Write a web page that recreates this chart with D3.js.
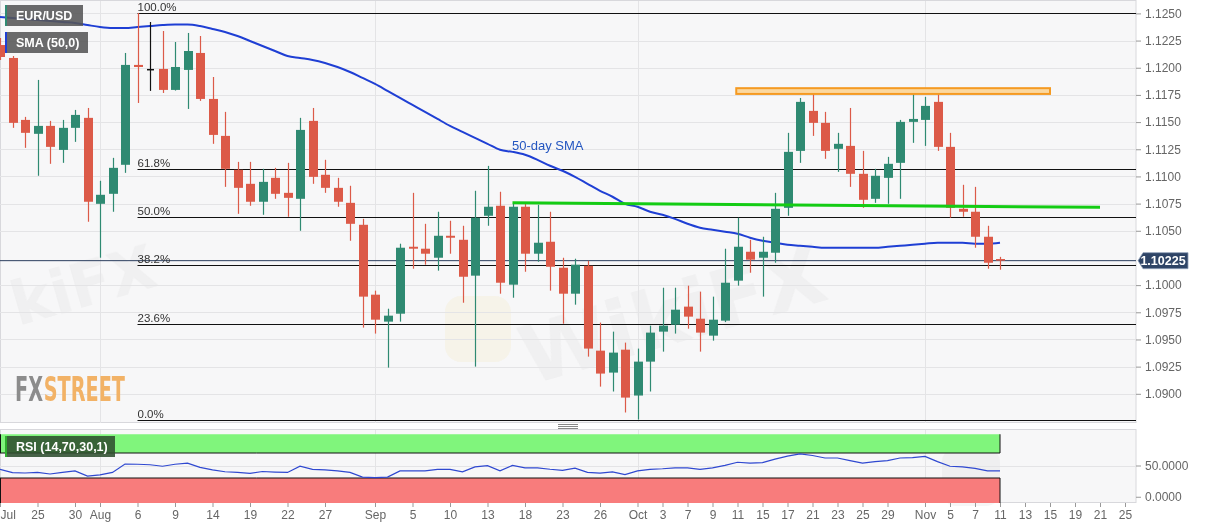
<!DOCTYPE html>
<html lang="en">
<head>
<meta charset="utf-8">
<title>EUR/USD daily</title>
<script src="https://cdn.jsdelivr.net/npm/d3@7"></script>
<style>
  html, body { margin: 0; padding: 0; background: #fff; }
  svg { display: block; font-family: "Liberation Sans", Arial, sans-serif; }
</style>
</head>
<body>
<svg id="chart" width="1207" height="526"></svg>
<script>
// ---- data (daily candles, 22 Jul - 11 Nov 2019) ----
var firstDay = "2019-07-22", lastAxisDay = "2019-11-25";

var opens  = [1.12209,1.12090,1.11520,1.11392,1.11465,1.11244,1.11447,1.11539,1.10748,1.10840,
              1.11107,1.12026,1.11989,1.11989,1.11796,1.11980,1.12136,1.11713,1.11373,1.11061,
              1.10932,1.10767,1.10987,1.10849,1.10794,1.11511,1.11015,1.10895,1.10757,1.10555,
              1.09912,1.09664,1.09737,1.10353,1.10335,1.10252,1.10454,1.10417,1.10087,1.10638,
              1.10730,1.10004,1.10721,1.10289,1.10399,1.10160,1.09921,1.10178,1.09397,1.09195,
              1.09406,1.08984,1.09296,1.09572,1.09636,1.09802,1.09691,1.09535,1.09673,1.10041,
              1.10307,1.10252,1.10298,1.10711,1.11235,1.11603,1.11493,1.11254,1.11281,1.11024,
              1.10794,1.10987,1.11125,1.11502,1.11520,1.11686,1.11272,1.10702,1.10675,1.10445,
              1.10240];
var highs  = [1.12274,1.12108,1.11548,1.11888,1.11511,1.11520,1.11612,1.11630,1.10960,1.11171,
              1.12136,1.12504,1.12421,1.12338,1.12237,1.12320,1.12292,1.11915,1.11594,1.11134,
              1.11134,1.11070,1.11079,1.11125,1.11539,1.11630,1.11153,1.10987,1.10914,1.10610,
              1.09949,1.09783,1.10381,1.10849,1.10564,1.10675,1.10592,1.10546,1.10868,1.11097,
              1.10859,1.10757,1.10757,1.10739,1.10675,1.10252,1.10243,1.10224,1.09655,1.09572,
              1.09471,1.09416,1.09627,1.09976,1.09976,1.09995,1.09940,1.09894,1.10335,1.10620,
              1.10417,1.10445,1.10849,1.11401,1.11722,1.11787,1.11594,1.11401,1.11630,1.11235,
              1.11070,1.11180,1.11520,1.11759,1.11732,1.11759,1.11401,1.10923,1.10904,1.10546,
              1.10260];
var lows   = [1.12072,1.11447,1.11263,1.11006,1.11116,1.11125,1.11318,1.10583,1.10252,1.10675,
              1.11033,1.11676,1.11787,1.11768,1.11790,1.11621,1.11695,1.11300,1.10904,1.10656,
              1.10730,1.10647,1.10794,1.10629,1.10500,1.10932,1.10849,1.10721,1.10408,1.09609,
              1.09554,1.09241,1.09664,1.10151,1.10188,1.10133,1.10289,1.09838,1.09250,1.10546,
              1.09921,1.09884,1.10123,1.10215,1.09949,1.09645,1.09820,1.09342,1.09066,1.09021,
              1.08828,1.08763,1.09021,1.09388,1.09554,1.09599,1.09388,1.09489,1.09660,1.09995,
              1.10114,1.09894,1.10206,1.10638,1.11125,1.11373,1.11162,1.11042,1.10904,1.10711,
              1.10757,1.10748,1.10794,1.11309,1.11281,1.11235,1.10620,1.10629,1.10344,1.10151,
              1.10142];
var closes = [1.12099,1.11493,1.11401,1.11465,1.11272,1.11447,1.11566,1.10767,1.10831,1.11079,
              1.12026,1.12007,1.11989,1.11796,1.12007,1.12154,1.11713,1.11382,1.11070,1.10895,
              1.10767,1.10950,1.10840,1.10803,1.11428,1.10996,1.10895,1.10767,1.10564,1.09894,
              1.09682,1.09719,1.10344,1.10335,1.10289,1.10454,1.10436,1.10077,1.10620,1.10721,
              1.10022,1.10721,1.10289,1.10390,1.10169,1.09921,1.10188,1.09416,1.09186,1.09379,
              1.08965,1.09296,1.09563,1.09627,1.09774,1.09710,1.09563,1.09682,1.10022,1.10353,
              1.10234,1.10307,1.10702,1.11226,1.11686,1.11493,1.11235,1.11300,1.11024,1.10785,
              1.11006,1.11116,1.11502,1.11529,1.11649,1.11272,1.10711,1.10675,1.10445,1.10206,
              1.10225];

var sma50  = [1.12467,1.12458,1.12448,1.12439,1.12430,1.12421,1.12412,1.12393,1.12375,1.12366,
              1.12366,1.12375,1.12384,1.12393,1.12398,1.12398,1.12384,1.12357,1.12329,1.12292,
              1.12246,1.12200,1.12154,1.12108,1.12090,1.12072,1.12044,1.12007,1.11961,1.11906,
              1.11851,1.11787,1.11722,1.11658,1.11594,1.11529,1.11465,1.11410,1.11355,1.11300,
              1.11245,1.11226,1.11199,1.11153,1.11098,1.11052,1.10996,1.10932,1.10868,1.10813,
              1.10748,1.10721,1.10675,1.10647,1.10610,1.10564,1.10528,1.10509,1.10491,1.10473,
              1.10436,1.10408,1.10390,1.10371,1.10362,1.10353,1.10344,1.10344,1.10344,1.10344,
              1.10344,1.10353,1.10362,1.10371,1.10381,1.10390,1.10390,1.10390,1.10381,1.10381,
              1.10390];

var rsi14  = [43.8,38.5,38.0,38.9,36.4,39.0,41.4,33.0,35.0,38.9,
              52.2,52.0,51.2,48.8,52.0,53.7,47.0,43.0,40.0,39.0,
              37.4,40.4,39.5,38.9,48.8,43.8,43.0,41.4,38.9,31.5,
              30.5,31.5,41.4,41.4,41.4,43.8,43.8,39.9,47.8,49.8,
              41.4,50.2,46.3,46.3,44.0,42.3,45.8,38.9,37.7,39.9,
              35.4,41.4,43.8,44.8,46.3,46.3,43.8,46.3,50.2,55.2,
              53.7,54.7,60.1,65.0,68.5,66.0,62.0,62.0,57.7,53.7,
              56.2,57.7,62.0,62.6,64.6,56.2,48.8,47.8,45.3,41.4,
              41.4];

var priceTicks = [1.1250,1.1225,1.1200,1.1175,1.1150,1.1125,1.1100,1.1075,1.1050,1.1000,1.0975,1.0950,1.0925,1.0900];
var rsiTicks = [50, 0];
var tickDates  = ["2019-07-22","2019-07-25","2019-07-30","2019-08-01","2019-08-06","2019-08-09","2019-08-14",
                  "2019-08-19","2019-08-22","2019-08-27","2019-09-02","2019-09-05","2019-09-10","2019-09-13",
                  "2019-09-18","2019-09-23","2019-09-26","2019-10-01","2019-10-03","2019-10-07","2019-10-09",
                  "2019-10-11","2019-10-15","2019-10-17","2019-10-21","2019-10-23","2019-10-25","2019-10-29",
                  "2019-11-01","2019-11-05","2019-11-07","2019-11-11","2019-11-13","2019-11-15","2019-11-19",
                  "2019-11-21","2019-11-25"];
var tickLabels = ["Jul","25","30","Aug","6","9","14","19","22","27","Sep","5","10","13","18","23","26",
                  "Oct","3","7","9","11","15","17","21","23","25","29","Nov","5","7","11","13","15","19","21","25"];
var monthStarts = ["2019-08-01","2019-09-02","2019-10-01","2019-11-01"];

var fibHigh = 1.1250, fibLow = 1.0876, fibStartDay = 11;
var fibLevels = [1, 0.618, 0.5, 0.382, 0.236, 0];
var fibLabels = ["100.0%","61.8%","50.0%","38.2%","23.6%","0.0%"];
var lastPrice = 1.10225;
var supportLine = [[41, 1.10757], [88, 1.10716]];   // [day index, price]
var resistZone = [58.9, 84, 1.11812, 1.11759];      // from, to, top, bottom
var rsiOverbought = 70, rsiOversold = 30;

// ---- layout ----
var W = 1207, plotR = 1136;
var mainTop = 1, mainBot = 423, rsiTop = 430, rsiBot = 503;
var red = "#dc5a48", green = "#2f8a72";

var svg = d3.select("#chart");
var parse = d3.utcParse("%Y-%m-%d"), fmt = d3.utcFormat("%Y-%m-%d");
var days = d3.utcDay.range(parse(firstDay), d3.utcDay.offset(parse(lastAxisDay), 1))
  .filter(function(d) { return d.getUTCDay() % 6 !== 0; }).map(fmt);

var x = d3.scalePoint().domain(days).range([0, 1125]);
var step = x.step();
function xi(i) { return x(days[0]) + i * step; }
var y = d3.scaleLinear().domain([1.0900, 1.1250]).range([393.8, 13.4]);
var yr = d3.scaleLinear().domain([0, 100]).range([496.75, 434.25]);

svg.append("rect").attr("width", W).attr("height", 526).attr("fill", "#fff");

var defs = svg.append("defs");
defs.append("clipPath").attr("id", "clipMain").append("rect")
  .attr("x", 0).attr("y", mainTop).attr("width", plotR).attr("height", mainBot - mainTop);

// panels
svg.append("rect").attr("x", 0.5).attr("y", mainTop - 0.5).attr("width", plotR - 0.5).attr("height", mainBot - mainTop)
  .attr("fill", "#f7f7f8").attr("stroke", "#d8d8dc");
svg.append("rect").attr("x", 0.5).attr("y", rsiTop - 0.5).attr("width", plotR - 0.5).attr("height", rsiBot - rsiTop)
  .attr("fill", "#f7f7f8").attr("stroke", "#d8d8dc");

// faint watermarks
var wm = svg.append("g").attr("fill", "#c8c8c8").attr("opacity", 0.16)
  .attr("font-family", "'DejaVu Sans', sans-serif").attr("font-weight", "bold");
wm.append("text").attr("transform", "translate(18,326) rotate(-16)").attr("font-size", 60).text("kiFX");
wm.append("text").attr("transform", "translate(530,385) rotate(-16)").attr("font-size", 80).text("WikiFX");
svg.append("rect").attr("x", 445).attr("y", 296).attr("width", 66).attr("height", 66).attr("rx", 16)
  .attr("fill", "#f3d98e").attr("opacity", 0.14);
svg.append("rect").attr("x", 942).attr("y", 448).attr("width", 58).attr("height", 58).attr("rx", 14)
  .attr("fill", "#d8d8d8").attr("opacity", 0.22);

// grid
var grid = svg.append("g").attr("stroke", "#e4e4e6").attr("stroke-width", 1);
grid.selectAll("line.h").data(priceTicks).enter().append("line")
  .attr("x1", 0).attr("x2", plotR).attr("y1", function(d) { return Math.round(y(d)) + 0.5; })
  .attr("y2", function(d) { return Math.round(y(d)) + 0.5; });
grid.selectAll("line.v").data(monthStarts).enter().append("line")
  .attr("x1", function(d) { return Math.round(x(d)) + 0.5; }).attr("x2", function(d) { return Math.round(x(d)) + 0.5; })
  .attr("y1", mainTop).attr("y2", mainBot);
grid.selectAll("line.vr").data(monthStarts).enter().append("line")
  .attr("x1", function(d) { return Math.round(x(d)) + 0.5; }).attr("x2", function(d) { return Math.round(x(d)) + 0.5; })
  .attr("y1", rsiTop).attr("y2", rsiBot);
grid.append("line").attr("x1", 0).attr("x2", plotR).attr("y1", Math.round(yr(50)) + 0.5).attr("y2", Math.round(yr(50)) + 0.5);

// FXStreet logo, squeezed horizontally
var logo = svg.append("g");
var logoFont = "'DejaVu Sans Condensed', 'Liberation Sans Narrow', sans-serif";
var fx = logo.append("text").attr("x", 0).attr("y", 0).attr("font-size", 33).attr("font-weight", "bold")
  .attr("font-family", logoFont).attr("fill", "#8c8c8c").text("FX");
var fxW = fx.node().getComputedTextLength();
var st = logo.append("text").attr("x", fxW + 1).attr("y", 0).attr("font-size", 33).attr("font-weight", "bold")
  .attr("font-family", logoFont).attr("fill", "#f2b266").text("STREET");
var logoW = fxW + 1 + st.node().getComputedTextLength();
logo.attr("transform", "translate(15,401) scale(" + (110 / logoW) + ",1)");

var main = svg.append("g").attr("clip-path", "url(#clipMain)");

// fibonacci retracement
var fibX0 = xi(fibStartDay);
fibLevels.forEach(function(lv, k) {
  var p = fibLow + (fibHigh - fibLow) * lv, yy = Math.round(y(p)) + 0.5;
  main.append("line").attr("x1", fibX0).attr("x2", plotR).attr("y1", yy).attr("y2", yy)
    .attr("stroke", "#111").attr("stroke-width", 1.2);
  svg.append("text").attr("x", fibX0).attr("y", yy - 3).attr("font-size", 11.5).attr("fill", "#333").text(fibLabels[k]);
});

// last price line
main.append("line").attr("x1", 0).attr("x2", plotR).attr("y1", y(lastPrice)).attr("y2", y(lastPrice))
  .attr("stroke", "#2b3e5e").attr("stroke-width", 1);

// SMA 50
var smaLine = d3.line().x(function(d, i) { return xi(i); }).y(function(d) { return y(d); }).curve(d3.curveMonotoneX);
main.append("path").datum(sma50).attr("d", smaLine).attr("fill", "none")
  .attr("stroke", "#1f3fd4").attr("stroke-width", 2);

// candles
var candles = d3.range(opens.length).map(function(i) {
  return { i: i, o: opens[i], h: highs[i], l: lows[i], c: closes[i] };
});
var cg = main.selectAll("g.candle").data(candles).enter().append("g");
function col(d) { return d.c > d.o ? green : (d.c < d.o ? red : "#111"); }
cg.append("line")
  .attr("x1", function(d) { return Math.round(xi(d.i)) + 0.5; }).attr("x2", function(d) { return Math.round(xi(d.i)) + 0.5; })
  .attr("y1", function(d) { return y(d.h); }).attr("y2", function(d) { return y(d.l); })
  .attr("stroke", col).attr("stroke-width", 1.2);
cg.append("rect")
  .attr("x", function(d) { return Math.round(xi(d.i)) - (d.o === d.c ? 3 : 4); })
  .attr("width", function(d) { return d.o === d.c ? 7 : 9; })
  .attr("y", function(d) { return y(Math.max(d.o, d.c)); })
  .attr("height", function(d) { return Math.max(1.5, Math.abs(y(d.o) - y(d.c))); })
  .attr("fill", col);

// support line
main.append("line").attr("x1", xi(supportLine[0][0])).attr("y1", y(supportLine[0][1]))
  .attr("x2", xi(supportLine[1][0])).attr("y2", y(supportLine[1][1]))
  .attr("stroke", "#14cc14").attr("stroke-width", 3);

// resistance zone
main.append("rect").attr("x", xi(resistZone[0])).attr("width", xi(resistZone[1]) - xi(resistZone[0]))
  .attr("y", y(resistZone[2])).attr("height", y(resistZone[3]) - y(resistZone[2]))
  .attr("fill", "#fbd8a0").attr("stroke", "#f59a22").attr("stroke-width", 2);

svg.append("text").attr("x", 512).attr("y", 150).attr("font-size", 13).attr("fill", "#2456c0").text("50-day SMA");

// legend boxes
function tag(xp, yp, w, h, fill, stripe, label) {
  svg.append("rect").attr("x", xp).attr("y", yp).attr("width", w).attr("height", h).attr("fill", fill).attr("opacity", 0.88);
  svg.append("rect").attr("x", xp).attr("y", yp).attr("width", 2).attr("height", h).attr("fill", stripe);
  svg.append("text").attr("x", xp + 11).attr("y", yp + h / 2 + 4.5).attr("font-size", 12.5).attr("font-weight", "bold")
    .attr("fill", "#fff").text(label);
}
tag(5, 5, 78, 21, "#565656", "#2f8a72", "EUR/USD");
tag(5, 32, 83, 21, "#565656", "#1f3fd4", "SMA (50,0)");

// price axis
var ya = svg.append("g").attr("transform", "translate(" + plotR + ",0)")
  .call(d3.axisRight(y).tickValues(priceTicks).tickFormat(d3.format(".4f")).tickSize(5).tickPadding(4));
ya.select(".domain").remove();
ya.selectAll("line").attr("stroke", "#999");
ya.selectAll("text").attr("font-size", 12).attr("fill", "#666").attr("font-family", "'Liberation Sans', Arial, sans-serif");

// last price badge
var ly = y(lastPrice);
svg.append("path").attr("d", "M" + (plotR + 2) + "," + ly + " L" + (plotR + 7) + "," + (ly - 8) + " H" + 1188 +
  " V" + (ly + 8) + " H" + (plotR + 7) + " Z").attr("fill", "#2e4466").attr("stroke", "#8fa0b8").attr("stroke-width", 0.8);
svg.append("text").attr("x", 1163).attr("y", ly + 4.5).attr("text-anchor", "middle").attr("font-size", 12.5)
  .attr("font-weight", "bold").attr("fill", "#fff").text(d3.format(".5f")(lastPrice));

// separator handle
[0, 2, 4].forEach(function(o) {
  svg.append("line").attr("x1", 558).attr("x2", 578).attr("y1", 424.5 + o).attr("y2", 424.5 + o).attr("stroke", "#888");
});

// RSI panel
var lastX = xi(rsi14.length - 1);
svg.append("rect").attr("x", 0).attr("width", lastX).attr("y", yr(100)).attr("height", yr(rsiOverbought) - yr(100)).attr("fill", "#80f57c");
svg.append("rect").attr("x", 0).attr("width", lastX).attr("y", yr(rsiOversold)).attr("height", rsiBot - yr(rsiOversold)).attr("fill", "#f87c7c");
var rb = svg.append("g").attr("stroke", "#111").attr("stroke-width", 1).attr("fill", "none");
rb.append("line").attr("x1", 0).attr("x2", lastX).attr("y1", yr(rsiOverbought)).attr("y2", yr(rsiOverbought));
rb.append("line").attr("x1", 0).attr("x2", lastX).attr("y1", yr(rsiOversold)).attr("y2", yr(rsiOversold));
rb.append("line").attr("x1", lastX).attr("x2", lastX).attr("y1", yr(100)).attr("y2", yr(rsiOverbought));
rb.append("line").attr("x1", lastX).attr("x2", lastX).attr("y1", yr(rsiOversold)).attr("y2", rsiBot);
rb.append("line").attr("x1", 0.5).attr("x2", 0.5).attr("y1", yr(100)).attr("y2", yr(rsiOverbought));
rb.append("line").attr("x1", 0.5).attr("x2", 0.5).attr("y1", yr(rsiOversold)).attr("y2", rsiBot);

var rsiLine = d3.line().x(function(d, i) { return xi(i); }).y(function(d) { return yr(d); });
svg.append("path").datum(rsi14).attr("d", rsiLine).attr("fill", "none").attr("stroke", "#2f48d0").attr("stroke-width", 1.2);

tag(5, 436, 110, 21, "#2f4f2f", "#2fae2f", "RSI (14,70,30,1)");

var ra = svg.append("g").attr("transform", "translate(" + plotR + ",0)")
  .call(d3.axisRight(yr).tickValues(rsiTicks).tickFormat(d3.format(".4f")).tickSize(5).tickPadding(4));
ra.select(".domain").remove();
ra.selectAll("line").attr("stroke", "#999");
ra.selectAll("text").attr("font-size", 12).attr("fill", "#666").attr("font-family", "'Liberation Sans', Arial, sans-serif");

// date axis
var xa = svg.append("g").attr("transform", "translate(0," + rsiBot + ")")
  .call(d3.axisBottom(x).tickValues(tickDates).tickFormat(function(d, i) { return tickLabels[i]; }).tickSize(4).tickPadding(3));
xa.select(".domain").remove();
xa.selectAll("line").attr("stroke", "#999");
xa.selectAll("text").attr("font-size", 12).attr("fill", "#666").attr("font-family", "'Liberation Sans', Arial, sans-serif");
xa.select(".tick text").attr("text-anchor", "start").attr("x", 0);
</script>
</body>
</html>
